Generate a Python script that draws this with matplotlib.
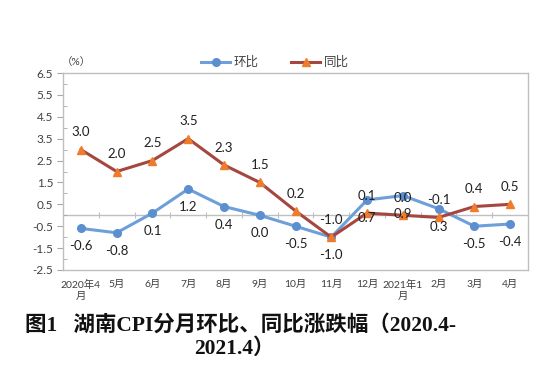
import matplotlib
matplotlib.use("Agg")
import matplotlib.pyplot as plt

categories = ["2020年4\n月", "5月", "6月", "7月", "8月", "9月", "10月", "11月", "12月",
              "2021年1\n月", "2月", "3月", "4月"]
mom = [-0.6, -0.8, 0.1, 1.2, 0.4, 0.0, -0.5, -1.0, 0.7, 0.9, 0.3, -0.5, -0.4]   # 环比
yoy = [3.0, 2.0, 2.5, 3.5, 2.3, 1.5, 0.2, -1.0, 0.1, 0.0, -0.1, 0.4, 0.5]        # 同比
series_names = ["环比", "同比"]
yticks = [-2.5, -1.5, -0.5, 0.5, 1.5, 2.5, 3.5, 4.5, 5.5, 6.5]
title_line1 = "图1   湖南CPI分月环比、同比涨跌幅（2020.4-"
title_line2 = "2021.4）"

FONT = ["Lato", "Noto Sans CJK SC", "DejaVu Sans"]
plt.rcParams["font.family"] = FONT

fig = plt.figure(figsize=(5.5, 3.67), dpi=100)
ax = fig.add_axes([63/550, 1-270/367, (528-63)/550, (270-73)/367])

x = list(range(len(categories)))
blue_line = "#6D9FD8"
blue_mk = "#5B8FD0"
red_line = "#A5473F"
orange_mk = "#EE7C2C"

l1, = ax.plot(x, mom, color=blue_line, lw=2.2, marker="o", ms=5.5,
              mfc=blue_mk, mec=blue_mk, label=series_names[0], zorder=3)
l2, = ax.plot(x, yoy, color=red_line, lw=2.2, marker="^", ms=6,
              mfc=orange_mk, mec=orange_mk, label=series_names[1], zorder=3)

for xi, v in zip(x, yoy):
    ax.annotate(f"{v:.1f}", (xi, v), xytext=(0, 12.5), textcoords="offset points",
                ha="center", va="center", fontsize=9.5, color="#202020", zorder=4)
for xi, v in zip(x, mom):
    ax.annotate(f"{v:.1f}", (xi, v), xytext=(0, -13), textcoords="offset points",
                ha="center", va="center", fontsize=9.5, color="#202020", zorder=4)

ymin, ymax = -2.5, 6.5
ax.set_ylim(ymin, ymax)
ax.set_xlim(-0.5, len(categories) - 0.5)
ax.set_yticks(yticks)
ax.set_yticklabels([f"{t:.1f}" for t in yticks])
ax.set_yticks([t + 0.5 for t in yticks[:-1]], minor=True)
ax.tick_params(axis="y", which="major", direction="out", length=4, color="#A6A6A6",
               labelsize=8.5, labelcolor="#404040", pad=3)
ax.tick_params(axis="y", which="minor", direction="in", length=3, color="#A6A6A6")

ax.set_xticks(x)
ax.set_xticklabels(categories, fontsize=7.5, color="#404040", linespacing=1.25, va="top")
ax.tick_params(axis="x", which="major", length=0, pad=7)

for s in ax.spines.values():
    s.set_color("#BFBFBF")
    s.set_linewidth(1.0)

# zero category axis with boundary ticks
sec = ax.secondary_xaxis((0 - ymin) / (ymax - ymin))
sec.set_xticks([i + 0.5 for i in x[:-1]])
sec.set_xticklabels([])
sec.tick_params(direction="inout", length=5, color="#BFBFBF")
sec.spines["bottom"].set_color("#BFBFBF")
sec.spines["bottom"].set_linewidth(1.0)

fig.legend(handles=[l1, l2], loc="center", bbox_to_anchor=(275/550, 1-62/367),
           ncol=2, frameon=False, fontsize=9, handlelength=2.3, columnspacing=2.6,
           handletextpad=0.3, labelcolor="#404040")

fig.text(62/550, 1-62/367, "（%）", fontsize=7.5, color="#404040", ha="left", va="center")

TFONT = ["Liberation Serif", "Noto Sans CJK SC"]
fig.text(25/550, 1-325/367, title_line1, family=TFONT, fontweight="bold",
         fontsize=15.5, ha="left", va="center", color="#111111")
fig.text(234/550, 1-349/367, title_line2, family=TFONT, fontweight="bold",
         fontsize=15.5, ha="center", va="center", color="#111111")

fig.savefig("out.png", dpi=100)
